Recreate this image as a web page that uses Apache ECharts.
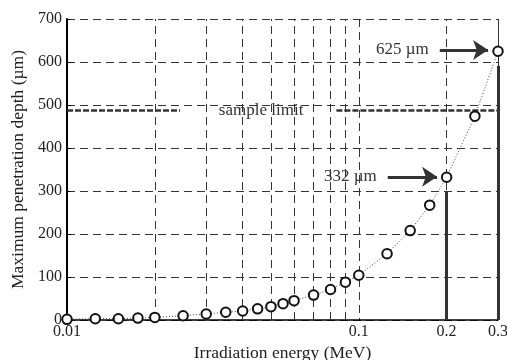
<!DOCTYPE html>
<html>
<head>
<meta charset="utf-8">
<script src="https://cdn.jsdelivr.net/npm/echarts@6/dist/echarts.min.js"></script>
<style>
  html, body { margin: 0; padding: 0; background: #fff; }
  #chart { width: 507px; height: 360px; }
</style>
</head>
<body>
<div id="chart"></div>
<script>
// irradiation energy (MeV) vs maximum penetration depth (um)
const energy = [0.01, 0.0125, 0.015, 0.0175, 0.02, 0.025, 0.03, 0.035, 0.04, 0.045, 0.05,
  0.055, 0.06, 0.07, 0.08, 0.09, 0.1, 0.125, 0.15, 0.175, 0.2, 0.25, 0.3];
const depth = [1.5, 3, 3, 4.5, 6, 10, 14, 18, 21, 26, 31, 38, 45, 58, 71, 88, 104, 154, 208, 267, 332, 474, 625];

// extra log grid lines (between decades)
const minorGrid = [0.02, 0.03, 0.04, 0.05, 0.06, 0.07, 0.08, 0.09, 0.2, 0.3];
const extraLabels = [0.2];

const sampleLimit = 487;
const font = 'Liberation Serif';
const ink = '#333';

const chart = echarts.init(document.getElementById('chart'));

const dashed = { color: ink, type: [8, 5], width: 1 };

const gridLines = minorGrid.map(v => ({
  xAxis: v,
  lineStyle: dashed,
  label: extraLabels.includes(v)
    ? { show: true, position: 'start', formatter: String(v), distance: 4, fontFamily: font, fontSize: 16, color: '#222' }
    : { show: false }
}));

const limitStyle = { color: ink, type: [6, 2], width: 2.5 };
const annot = { fontFamily: font, fontSize: 17, color: ink };

const marks = [
  ...gridLines,
  // sample limit
  [{ coord: [0.01, sampleLimit], lineStyle: limitStyle }, { coord: [0.0244, sampleLimit] }],
  [{ coord: [0.0838, sampleLimit], lineStyle: limitStyle,
     label: { show: true, position: 'start', formatter: 'sample limit', distance: 33, ...annot } },
   { coord: [0.3, sampleLimit] }],
  // solid verticals
  [{ coord: [0.2, 0], lineStyle: { color: ink, type: 'solid', width: 3 } }, { coord: [0.2, 300] }],
  [{ coord: [0.3, 0], lineStyle: { color: ink, type: 'solid', width: 3 } }, { coord: [0.3, 591] }],
  // arrows
  [{ coord: [0.1895, 628], symbol: 'none', lineStyle: { color: ink, type: 'solid', width: 3 },
     label: { show: true, position: 'start', formatter: '625 µm', distance: 11, ...annot } },
   { coord: [0.2774, 628], symbol: 'arrow', symbolSize: 15 }],
  [{ coord: [0.1257, 333], symbol: 'none', lineStyle: { color: ink, type: 'solid', width: 3 },
     label: { show: true, position: 'start', formatter: '332 µm', distance: 11, ...annot } },
   { coord: [0.1855, 333], symbol: 'arrow', symbolSize: 15 }]
];

chart.setOption({
  animation: false,
  backgroundColor: '#fff',
  textStyle: { fontFamily: font },
  grid: { left: 67, right: 9, top: 19, bottom: 40, outerBoundsMode: 'none', containLabel: false },
  xAxis: {
    type: 'log',
    logBase: 10,
    min: 0.01,
    max: 0.3,
    name: 'Irradiation energy (MeV)',
    nameLocation: 'middle',
    nameGap: 24,
    nameTextStyle: { fontFamily: font, fontSize: 17.5, color: '#222' },
    axisLine: { lineStyle: { color: '#000', width: 1.5 } },
    axisTick: { show: false },
    axisLabel: {
      fontFamily: font, fontSize: 16, color: '#222', margin: 4,
      formatter: v => String(+v.toPrecision(2))
    },
    splitLine: { show: true, lineStyle: dashed },
    minorTick: { show: false },
    minorSplitLine: { show: false }
  },
  yAxis: {
    type: 'value',
    min: 0,
    max: 700,
    interval: 100,
    name: 'Maximum penetration depth (µm)',
    nameLocation: 'middle',
    nameGap: 40,
    nameTextStyle: { fontFamily: font, fontSize: 17.5, color: '#222' },
    axisLine: { show: true, lineStyle: { color: '#000', width: 2 } },
    axisTick: { show: true, inside: true, length: 4, lineStyle: { color: '#000' } },
    axisLabel: { fontFamily: font, fontSize: 16, color: '#222', margin: 5 },
    splitLine: { show: true, lineStyle: dashed }
  },
  series: [{
    type: 'line',
    data: energy.map((e, i) => [e, depth[i]]),
    symbol: 'emptyCircle',
    symbolSize: 9.5,
    showSymbol: true,
    showAllSymbol: true,
    itemStyle: { color: '#111', borderColor: '#111', borderWidth: 1.2 },
    lineStyle: { color: '#444', width: 1, type: [1, 2] },
    z: 5,
    markLine: {
      silent: true,
      symbol: ['none', 'none'],
      animation: false,
      label: { show: false },
      z: 3,
      data: marks
    }
  }]
});
</script>
</body>
</html>
